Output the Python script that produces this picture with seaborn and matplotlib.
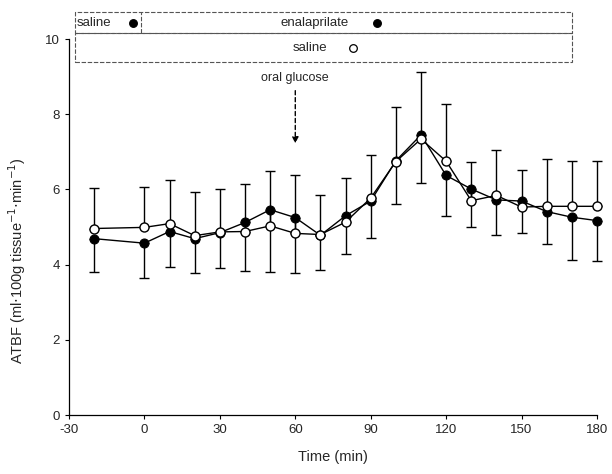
import numpy as np
import pandas as pd
import seaborn as sns
import matplotlib
matplotlib.use("Agg")
from matplotlib import pyplot as plt
from matplotlib.patches import Rectangle
from matplotlib.lines import Line2D

# data
time = [-20, 0, 10, 20, 30, 40, 50, 60, 70, 80, 90, 100, 110, 120, 130, 140, 150, 160, 170, 180]
enalaprilate = [4.69, 4.57, 4.88, 4.69, 4.85, 5.12, 5.46, 5.25, 4.78, 5.30, 5.69, 6.76, 7.45, 6.37,
                6.01, 5.72, 5.69, 5.41, 5.26, 5.17]
saline = [4.96, 4.99, 5.09, 4.77, 4.87, 4.88, 5.03, 4.83, 4.80, 5.13, 5.77, 6.74, 7.34, 6.75,
          5.70, 5.84, 5.53, 5.55, 5.55, 5.55]
upper_cap = [6.04, 6.07, 6.25, 5.92, 6.01, 6.15, 6.50, 6.39, 5.84, 6.30, 6.92, 8.18, 9.13, 8.27,
             6.72, 7.06, 6.52, 6.81, 6.75, 6.75]
lower_cap = [3.80, 3.65, 3.93, 3.77, 3.91, 3.82, 3.80, 3.78, 3.85, 4.27, 4.70, 5.61, 6.17, 5.30,
             4.99, 4.80, 4.85, 4.54, 4.11, 4.09]

df = pd.DataFrame({"time": time, "enalaprilate": enalaprilate, "saline": saline,
                   "hi": upper_cap, "lo": lower_cap})

sns.set_style("ticks")
plt.rcParams['font.family'] = ['Liberation Sans', 'DejaVu Sans']
plt.rcParams['axes.unicode_minus'] = False

fig = plt.figure(figsize=(6.12, 4.74), dpi=100)
ax = fig.add_axes([69/612, 1 - 415/474, (597 - 69)/612, (415 - 39)/474])

# error bars: open series up, filled series down
for cont in [
    ax.errorbar(df["time"], df["saline"], yerr=[np.zeros(len(df)), df["hi"] - df["saline"]],
                fmt="none", ecolor="black", elinewidth=1, capsize=3.5, capthick=1, zorder=1),
    ax.errorbar(df["time"], df["enalaprilate"], yerr=[df["enalaprilate"] - df["lo"], np.zeros(len(df))],
                fmt="none", ecolor="black", elinewidth=1, capsize=3.5, capthick=1, zorder=1),
]:
    for art in cont.lines[1] + cont.lines[2]:
        art.set_clip_on(False)

sns.lineplot(data=df, x="time", y="enalaprilate", ax=ax, color="black", linewidth=1,
             marker="o", markersize=6.5, markerfacecolor="black", markeredgecolor="black",
             zorder=3, clip_on=False)
sns.lineplot(data=df, x="time", y="saline", ax=ax, color="black", linewidth=1,
             marker="o", markersize=6.5, markerfacecolor="white", markeredgecolor="black",
             markeredgewidth=1, zorder=4, clip_on=False)

ax.set_xlim(-30, 180)
ax.set_ylim(0, 10)
ax.set_xticks(range(-30, 181, 30))
ax.set_yticks(range(0, 11, 2))
ax.tick_params(labelsize=9.5, length=3, width=0.8, color="black")
ax.set_xlabel("Time (min)", fontsize=10.5, labelpad=10)
ax.set_ylabel(r"ATBF (ml$\cdot$100g tissue$^{-1}$$\cdot$min$^{-1}$)", fontsize=10.5)
ax.yaxis.set_label_coords(-0.078, 0.41)
sns.despine(ax=ax)
for s in ["left", "bottom"]:
    ax.spines[s].set_linewidth(0.9)
    ax.spines[s].set_color("black")

ax.annotate("", xy=(60, 7.15), xytext=(60, 8.7),
            arrowprops=dict(arrowstyle="-|>", color="black", lw=1, linestyle=(0, (3, 2)),
                            mutation_scale=9))
ax.text(60, 8.95, "oral glucose", ha="center", va="center", fontsize=9)

# legend boxes drawn in figure coordinates
def fy(p):
    return 1 - p / 474

def fx(p):
    return p / 612

box = dict(fill=False, edgecolor="#555555", lw=0.8, linestyle=(0, (4, 1.5)),
           transform=fig.transFigure)
fig.add_artist(Rectangle((fx(75), fy(33)), fx(572 - 75), (33 - 12) / 474, **box))
fig.add_artist(Rectangle((fx(75), fy(62)), fx(572 - 75), (62 - 33) / 474, **box))
fig.add_artist(Line2D([fx(141), fx(141)], [fy(33), fy(12)], color="#555555", lw=0.8,
                      linestyle=(0, (4, 1.5)), transform=fig.transFigure))

fig.text(fx(77), fy(23), "saline", ha="left", va="center", fontsize=9.5)
fig.text(fx(315), fy(23), "enalaprilate", ha="center", va="center", fontsize=9.5)
fig.text(fx(310), fy(48), "saline", ha="center", va="center", fontsize=9.5)
for px, py, fc in [(133, 23, "black"), (377, 23, "black"), (353, 48, "white")]:
    fig.add_artist(Line2D([fx(px)], [fy(py)], marker="o", markersize=5.5, markerfacecolor=fc,
                          markeredgecolor="black", markeredgewidth=0.9,
                          transform=fig.transFigure))

fig.savefig("out.png", dpi=100)
